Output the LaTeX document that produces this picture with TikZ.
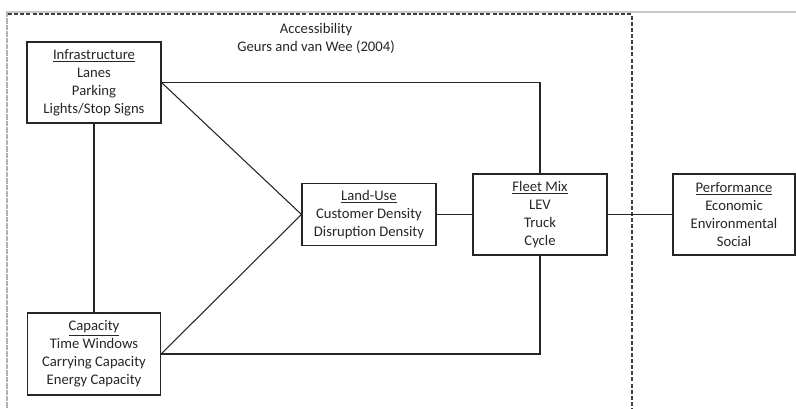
\documentclass[tikz,border=0pt]{standalone}
\usepackage{fontspec}
\setmainfont{Carlito}
\begin{document}
\begin{tikzpicture}[x=0.75pt,y=-0.75pt,
  box/.style={draw=black!85,line width=0.8pt,rectangle,align=center,inner sep=0pt,
    font=\fontsize{11}{13.5}\selectfont,text=black!85},
  link/.style={draw=black!85,line width=0.8pt},
  frame/.style={draw=black!75,line width=0.8pt,dash pattern=on 3pt off 1.6pt},
  lbl/.style={font=\fontsize{11}{13.5}\selectfont,text=black!85,inner sep=0pt}]
\useasboundingbox (0,0) rectangle (796,409);
% window-like grey borders
\draw[black!22,line width=1.1pt] (6,12) -- (796,12);
\draw[black!30,line width=1pt,dash pattern=on 4pt off 0.8pt] (7,12) -- (7,409);
% dashed accessibility frame
\coordinate (ftl) at (8,14);
\coordinate (ftr) at (632,14);
\coordinate (fbr) at (632,409);
\draw[frame] (ftl) -- (ftr) -- (fbr);
% title
\node[lbl,align=center] (acc) at (316,38) {Accessibility\\Geurs and van Wee (2004)};
% boxes
\node[box,minimum width=134*0.75pt,minimum height=81*0.75pt] (infra) at (94,82.5)
  {\underline{Infrastructure}\\Lanes\\Parking\\Lights/Stop Signs};
\node[box,minimum width=133*0.75pt,minimum height=82*0.75pt] (cap) at (94,354)
  {\underline{Capacity}\\Time Windows\\Carrying Capacity\\Energy Capacity};
\node[box,minimum width=134*0.75pt,minimum height=62*0.75pt] (land) at (369,214.5)
  {\underline{Land-Use}\\Customer Density\\Disruption Density};
\node[box,minimum width=134*0.75pt,minimum height=81*0.75pt] (fleet) at (540,214.5)
  {\underline{Fleet Mix}\\LEV\\Truck\\Cycle};
\node[box,minimum width=122*0.75pt,minimum height=81*0.75pt] (perf) at (734,214.5)
  {\underline{Performance}\\Economic\\Environmental\\Social};
% connectors
\draw[link] (infra.east) -- (land.west);
\draw[link] (infra.east) -| (fleet.north);
\draw[link] (cap.east) -- (land.west);
\draw[link] (cap.east) -| (fleet.south);
\draw[link] (infra.south) -- (cap.north);
\draw[link] (land.east) -- (fleet.west);
\draw[link] (fleet.east) -- (perf.west);
\end{tikzpicture}
\end{document}
